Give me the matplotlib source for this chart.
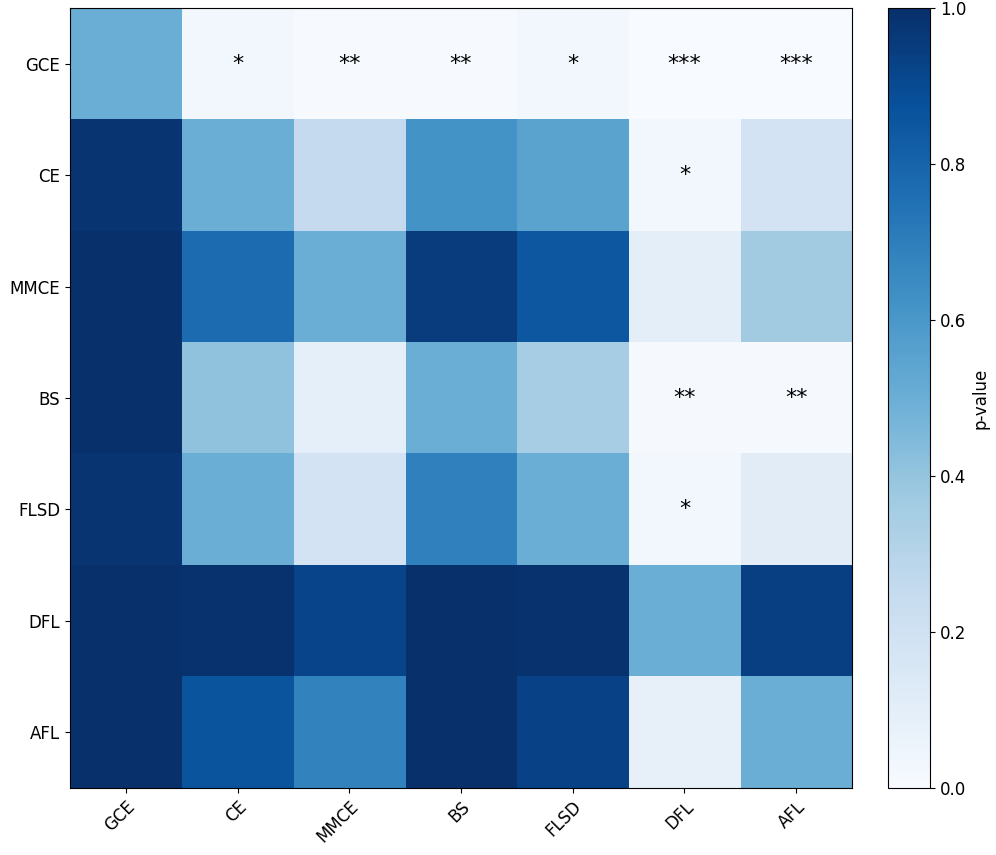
import matplotlib as mpl
mpl.use('agg')
import matplotlib.pyplot as plt
import numpy as np

methods = ['GCE', 'CE', 'MMCE', 'BS', 'FLSD', 'DFL', 'AFL']
pvals = np.array([
    [0.50, 0.03, 0.005, 0.005, 0.03, 0.0005, 0.0005],
    [0.98, 0.50, 0.25, 0.62, 0.55, 0.03, 0.18],
    [1.00, 0.77, 0.50, 0.95, 0.85, 0.10, 0.36],
    [1.00, 0.41, 0.09, 0.50, 0.35, 0.008, 0.008],
    [0.98, 0.50, 0.18, 0.69, 0.50, 0.03, 0.11],
    [1.00, 0.99, 0.92, 1.00, 0.99, 0.50, 0.94],
    [1.00, 0.86, 0.68, 1.00, 0.93, 0.08, 0.50],
])

def stars(p):
    if p < 0.001:
        return '***'
    if p < 0.01:
        return '**'
    if p < 0.05:
        return '*'
    return ''

fig = plt.figure(figsize=(9.96, 8.55), dpi=100)
ax = fig.add_axes([70/996, 67/855, 782/996, 780/855])
cax = fig.add_axes([888/996, 67/855, 42/996, 780/855])

im = ax.imshow(pvals, cmap='Blues', vmin=0, vmax=1, aspect='auto')
ax.set_xticks(range(len(methods)))
ax.set_yticks(range(len(methods)))
ax.set_xticklabels(methods, rotation=45, ha='right', rotation_mode='anchor', fontsize=12)
ax.set_yticklabels(methods, fontsize=12)

for i in range(len(methods)):
    for j in range(len(methods)):
        s = stars(pvals[i, j])
        if s:
            ax.text(j, i, s, ha='center', va='center', fontsize=16, color='k')

cb = fig.colorbar(im, cax=cax)
cb.set_label('p-value', fontsize=12)
cb.ax.tick_params(labelsize=12)

plt.savefig('out.png', dpi=100)
